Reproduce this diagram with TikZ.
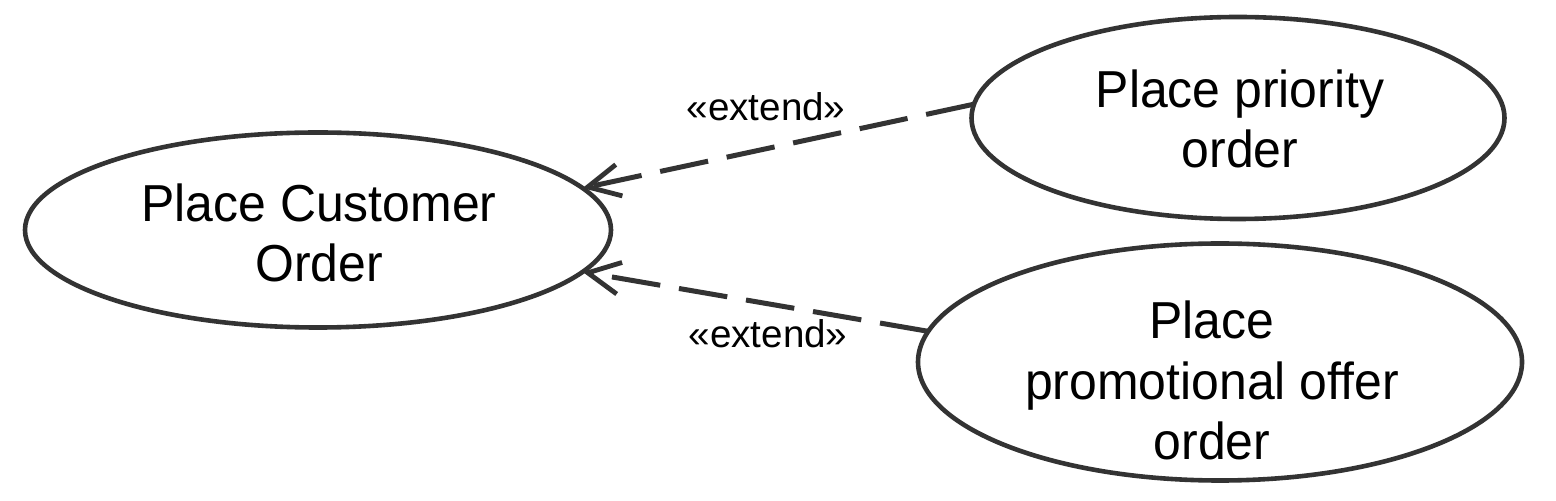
\documentclass[tikz,border=0pt]{standalone}
\usepackage{fontspec}
\setmainfont{Liberation Sans}
\newfontfamily\ucfont[FakeStretch=0.96]{Liberation Sans}
\usetikzlibrary{shapes.geometric,arrows.meta}
\definecolor{lc}{HTML}{333333}
\tikzset{
  uc/.style={ellipse, draw=lc, line width=2.3pt, inner sep=0pt, outer sep=0pt},
  uctext/.style={align=center, inner sep=0pt, anchor=base, font=\ucfont\fontsize{26}{30}\selectfont},
  extlabel/.style={inner sep=0pt, anchor=base, font=\fontsize{19.3}{22}\selectfont},
  extendarrow/.style={draw=lc, line width=2.5pt, dash pattern=on 24.5pt off 9.5pt,
     -{Straight Barb[length=16pt, width=16pt, line width=2.4pt]}}
}
\begin{document}
\begin{tikzpicture}[x=0.5pt, y=-0.5pt]
\useasboundingbox (0,0) rectangle (1556,501);
\node[uc, minimum width=293pt, minimum height=97.5pt] (lc) at (318,230) {};
\node[uc, minimum width=266.5pt, minimum height=101pt] (tr) at (1238,118) {};
\node[uc, minimum width=302pt, minimum height=118.5pt] (br) at (1220,362) {};
\node[uctext] (lct) at (319,282) {Place Customer\\Order};
\node[uctext] (trt) at (1240,168) {Place priority\\order};
\node[uctext] (brt) at (1212,459) {Place\\promotional offer\\order};
\draw[extendarrow] (tr.177) -- (lc.9);
\draw[extendarrow] (br.174) -- (lc.351);
\node[extlabel] (l1) at (766,121) {«extend»};
\node[extlabel] (l2) at (768,348) {«extend»};
\end{tikzpicture}
\end{document}
